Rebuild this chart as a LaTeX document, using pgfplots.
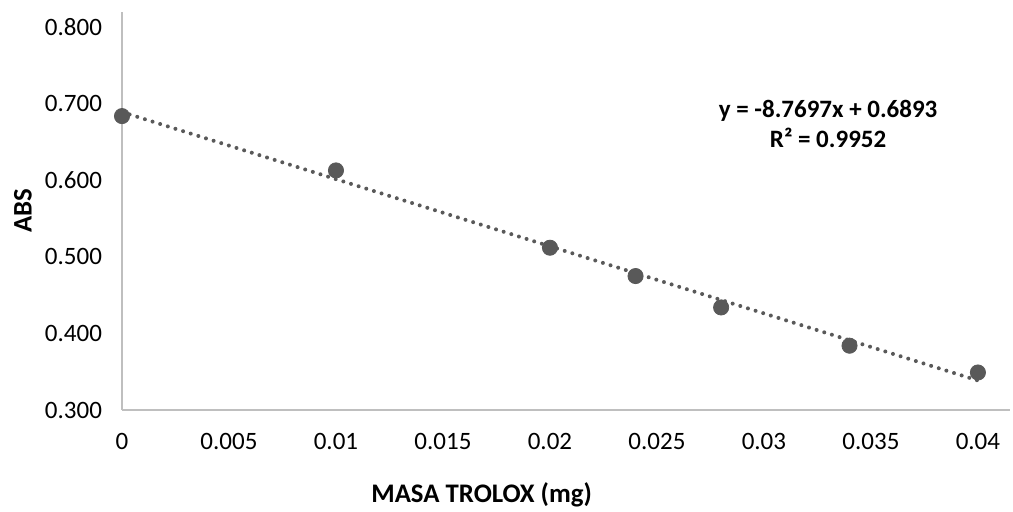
\documentclass[border=0pt]{standalone}
\usepackage{fontspec}
\setmainfont{Carlito}
\usepackage{pgfplots}
\pgfplotsset{compat=1.18}

\definecolor{mk}{HTML}{595959}
\definecolor{ax}{HTML}{BFBFBF}

\begin{document}
\begin{tikzpicture}[x=1pt,y=1pt]
\path[use as bounding box] (-61,-51) rectangle (445.5,205);
\begin{axis}[
  at={(0,0)}, anchor=south west,
  scale only axis, width=444pt, height=199pt,
  xmin=0, xmax=0.0415, ymin=0.3, ymax=0.82,
  axis lines=left, axis line style={ax, line width=0.9pt, -},
  xtick={0,0.005,...,0.04}, ytick={0.3,0.4,...,0.8},
  major tick length=0pt,
  /pgf/number format/assume math mode=true,
  xticklabel style={font=\fontsize{12.5}{14}\selectfont, yshift=-8pt,
    /pgf/number format/fixed, /pgf/number format/precision=3},
  yticklabel style={font=\fontsize{12.5}{14}\selectfont, xshift=-6.5pt,
    /pgf/number format/fixed, /pgf/number format/fixed zerofill,
    /pgf/number format/precision=3},
  scaled x ticks=false, scaled y ticks=false,
  xlabel={\bfseries MASA TROLOX (mg)},
  ylabel={\bfseries ABS},
  xlabel style={font=\fontsize{13.4}{15}\selectfont, at={(axis description cs:0.405,-0.2136)}, anchor=center},
  ylabel style={font=\fontsize{13.4}{15}\selectfont, at={(axis description cs:-0.1115,0.5)}, anchor=center},
  clip=false,
]
% trendline
\addplot[mk, line width=2pt, line cap=round, dash pattern=on 0pt off 4pt]
  coordinates {(0,0.6893)(0.04,0.3385)};
% data
\addplot[only marks, mark=*, mark size=3.8pt, mark options={fill=mk, draw=mk}]
  coordinates {(0,0.684)(0.01,0.613)(0.02,0.512)(0.024,0.475)(0.028,0.434)(0.034,0.384)(0.04,0.349)};
\node[font=\bfseries\fontsize{12.5}{15}\selectfont, align=center, inner sep=0pt]
  at (axis cs:0.033,0.674) {y = -8.7697x + 0.6893\\R² = 0.9952};
\end{axis}
\end{tikzpicture}
\end{document}
